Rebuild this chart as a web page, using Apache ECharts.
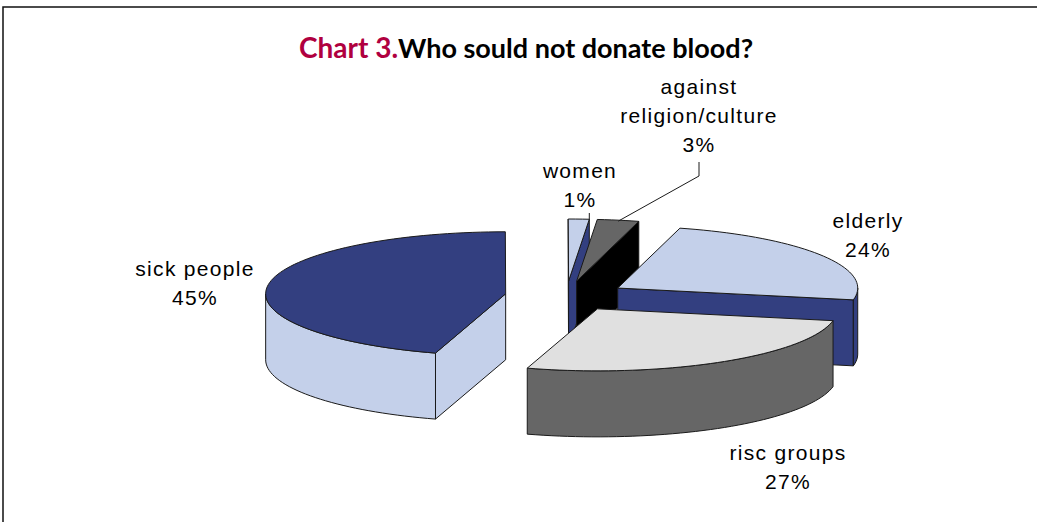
<!DOCTYPE html>
<html>
<head>
<meta charset="utf-8">
<style>
  html, body { margin: 0; padding: 0; background: #fff; }
  #chart { width: 1037px; height: 522px; }
  /* the labels in the original are widely tracked */
  svg text { letter-spacing: 1.3px; }
  svg text[style*="Lato"] { letter-spacing: 0; }
</style>
<script src="https://cdn.jsdelivr.net/npm/echarts@6/dist/echarts.min.js"></script>
</head>
<body>
<div id="chart"></div>
<script>
// data, in drawing order (back to front), shares
const categories = ['sick people', 'women', 'against\nreligion/culture', 'elderly', 'risc groups'];
const shares = [45.3, 1.4, 2.8, 23.9, 26.7];

// colours per slice
const topColors = ['#333F80', '#C4D0EA', '#666666', '#C4D0EA', '#E0E0E0'];
const sideColors = ['#C4D0EA', '#333F80', '#000000', '#333F80', '#666666'];

// label centres per slice
const labelX = [195, 580, 699, 868, 788];
const labelY = [283, 185, 115, 235, 467];

// pie layout
const firstAngle = 197; // clockwise from 12 o'clock
const cx = 566, cy = 296;
const rx = 240, ry = 62;
const depth = 66;
const explodeX = 61, explodeY = 15;
const edge = { stroke: '#1a1a1a', lineWidth: 1, lineJoin: 'round' };

const total = shares.reduce((a, b) => a + b, 0);
let running = firstAngle;
const slices = shares.map(v => {
  const s = { start: running, end: running + v / total * 360 };
  running = s.end;
  return s;
});

const rad = d => d * Math.PI / 180;
const onRim = (o, deg, dy) => [
  o[0] + rx * Math.sin(rad(deg)),
  o[1] - ry * Math.cos(rad(deg)) + (dy || 0)
];
const arcPoints = (o, a, b, dy) => {
  const pts = [];
  const n = Math.max(2, Math.ceil(Math.abs(b - a) / 2));
  for (let i = 0; i <= n; i++) pts.push(onRim(o, a + (b - a) * i / n, dy));
  return pts;
};
const face = (points, fill) => ({
  type: 'polygon',
  shape: { points: points },
  style: Object.assign({ fill: fill }, edge)
});
const wall = (o, deg, fill) => {
  const r = onRim(o, deg);
  return face([o, r, [r[0], r[1] + depth], [o[0], o[1] + depth]], fill);
};

function renderSlice(params, api) {
  const i = params.dataIndex;
  const { start, end } = slices[i];
  const mid = rad((start + end) / 2);
  const o = [cx + explodeX * Math.sin(mid), cy - explodeY * Math.cos(mid)];
  const children = [];
  const norm = d => ((d % 360) + 360) % 360;

  // cut faces turned towards the viewer
  if (norm(start) > 180 && norm(start) < 360) children.push(wall(o, start, sideColors[i]));
  if (norm(end) > 0 && norm(end) < 180) children.push(wall(o, end, sideColors[i]));

  // outer rim, only the front half of the ellipse shows
  for (const turn of [0, 360]) {
    const a = Math.max(start, 90 + turn), b = Math.min(end, 270 + turn);
    if (b > a) {
      const upper = arcPoints(o, a, b);
      const lower = arcPoints(o, a, b, depth).reverse();
      children.push(face(upper.concat(lower), sideColors[i]));
    }
  }

  // top surface
  children.push(face([o].concat(arcPoints(o, start, end)), topColors[i]));

  // leader lines for the two thin slices
  const tip = onRim(o, (start + end) / 2);
  if (i === 2) {
    children.push({
      type: 'polyline',
      shape: { points: [[labelX[i], 162], [labelX[i], 176], [tip[0], tip[1] + 1]] },
      style: { stroke: '#1a1a1a', lineWidth: 1, fill: null }
    });
  }
  if (i === 1) {
    const corner = onRim(o, end);
    children.push({
      type: 'line',
      shape: { x1: corner[0], y1: 213, x2: corner[0], y2: corner[1] },
      style: { stroke: '#1a1a1a', lineWidth: 1 }
    });
  }

  // label
  children.push({
    type: 'text',
    x: labelX[i],
    y: labelY[i],
    style: {
      text: categories[i] + '\n' + Math.round(api.value(0)) + '%',
      fill: '#000',
      font: '21px "Liberation Sans"',
      lineHeight: 29,
      align: 'center',
      verticalAlign: 'middle'
    }
  });
  return { type: 'group', children: children };
}

const chart = echarts.init(document.getElementById('chart'), null, { renderer: 'svg' });
chart.setOption({
  animation: false,
  backgroundColor: '#fff',
  title: {
    text: '{a|Chart 3.}{b|Who sould not donate blood?}',
    left: 521,
    top: 28,
    textAlign: 'center',
    textStyle: {
      rich: {
        a: { fontFamily: 'Lato', fontWeight: 'bold', fontSize: 28, color: '#B0003F' },
        b: { fontFamily: 'Lato', fontWeight: 'bold', fontSize: 27, color: '#000' }
      }
    }
  },
  graphic: [{
    type: 'polyline',
    shape: { points: [[1037, 7], [3, 7], [3, 522]] },
    style: { stroke: '#111', lineWidth: 1.5, fill: null }
  }],
  series: [{
    type: 'custom',
    coordinateSystem: 'none',
    renderItem: renderSlice,
    data: shares.map(v => [v])
  }]
});
</script>
</body>
</html>
